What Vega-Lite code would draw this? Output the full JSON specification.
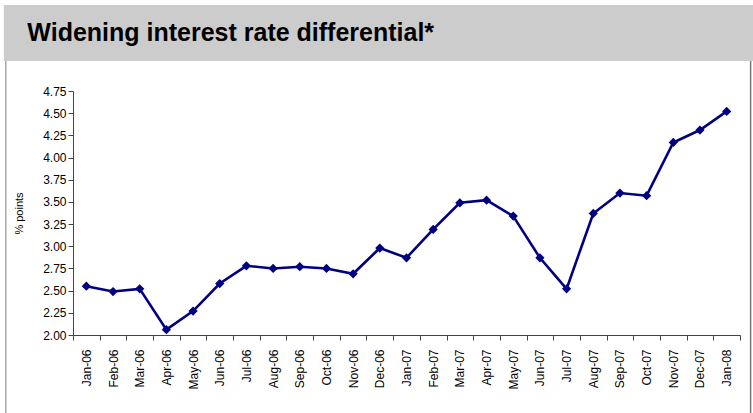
{
  "$schema": "https://vega.github.io/schema/vega-lite/v6.json",
  "background": "white",
  "padding": {"left": 3, "top": 4, "right": 0, "bottom": 0},
  "width": 667,
  "height": 244,
  "config": {
    "font": "Liberation Sans",
    "view": {"stroke": null}
  },
  "layer": [
    {
      "data": {"values": [
        {"month": "Jan-06", "v": 2.55},
        {"month": "Feb-06", "v": 2.49},
        {"month": "Mar-06", "v": 2.52},
        {"month": "Apr-06", "v": 2.06},
        {"month": "May-06", "v": 2.27},
        {"month": "Jun-06", "v": 2.58},
        {"month": "Jul-06", "v": 2.78},
        {"month": "Aug-06", "v": 2.75},
        {"month": "Sep-06", "v": 2.77},
        {"month": "Oct-06", "v": 2.75},
        {"month": "Nov-06", "v": 2.69},
        {"month": "Dec-06", "v": 2.98},
        {"month": "Jan-07", "v": 2.87},
        {"month": "Feb-07", "v": 3.19},
        {"month": "Mar-07", "v": 3.49},
        {"month": "Apr-07", "v": 3.52},
        {"month": "May-07", "v": 3.34},
        {"month": "Jun-07", "v": 2.87},
        {"month": "Jul-07", "v": 2.52},
        {"month": "Aug-07", "v": 3.37},
        {"month": "Sep-07", "v": 3.60},
        {"month": "Oct-07", "v": 3.57},
        {"month": "Nov-07", "v": 4.17},
        {"month": "Dec-07", "v": 4.31},
        {"month": "Jan-08", "v": 4.52}
      ]},
      "encoding": {
        "x": {
          "field": "month", "type": "ordinal", "sort": null,
          "scale": {"paddingInner": 0, "paddingOuter": 0},
          "axis": {
            "orient": "bottom",
            "title": null, "labelAngle": -90, "labelFontSize": 12, "labelColor": "black",
            "labelAlign": "right", "labelBaseline": "middle", "labelPadding": 9,
            "tickBand": "extent", "domainColor": "#444444", "tickColor": "#444444", "tickSize": 5, "grid": false
          }
        },
        "y": {
          "field": "v", "type": "quantitative",
          "scale": {"domain": [2, 4.75], "nice": false, "zero": false},
          "axis": {
            "orient": "left",
            "title": "% points", "titleFontSize": 11, "titleFontWeight": "normal", "titleColor": "black", "titlePadding": 18,
            "values": [2, 2.25, 2.5, 2.75, 3, 3.25, 3.5, 3.75, 4, 4.25, 4.5, 4.75],
            "format": ".2f", "labelFontSize": 12, "labelColor": "black", "grid": false,
            "domainColor": "#444444", "tickColor": "#444444", "tickSize": 5
          }
        }
      },
      "layer": [
        {"mark": {"type": "line", "color": "#000080", "strokeWidth": 2.6}},
        {"mark": {"type": "point", "shape": "diamond", "filled": true, "color": "#000080", "size": 85, "opacity": 1}}
      ]
    },
    {
      "layer": [
        {
          "data": {"values": [{"x1": -0.1037, "x2": 1.02, "y1": 1.123, "y2": 1.3525}]},
          "mark": {"type": "rect", "color": "#cccccc"},
          "encoding": {
            "x": {"field": "x1", "type": "quantitative", "scale": {"domain": [0, 1], "nice": false, "zero": false}, "axis": null},
            "x2": {"field": "x2"},
            "y": {"field": "y1", "type": "quantitative", "scale": {"domain": [0, 1], "nice": false, "zero": false}, "axis": null},
            "y2": {"field": "y2"}
          }
        },
        {
          "data": {"values": [
            {"x": -0.1008, "y1": -0.32, "y2": 1.123, "c": "left"},
            {"x": 1.0159, "y1": -0.32, "y2": 1.123, "c": "right"}
          ]},
          "mark": {"type": "rule", "strokeWidth": 1.5},
          "encoding": {
            "x": {"field": "x", "type": "quantitative", "scale": {"domain": [0, 1], "nice": false, "zero": false}, "axis": null},
            "y": {"field": "y1", "type": "quantitative", "scale": {"domain": [0, 1], "nice": false, "zero": false}, "axis": null},
            "y2": {"field": "y2"},
            "color": {"field": "c", "type": "nominal", "scale": {"domain": ["left", "right"], "range": ["#aaaaaa", "#777777"]}, "legend": null}
          }
        },
        {
          "data": {"values": [{"label": "Widening interest rate differential*", "x": -0.0685, "y": 1.2377}]},
          "mark": {"type": "text", "align": "left", "baseline": "middle", "font": "Liberation Sans", "fontSize": 25, "fontWeight": "bold", "color": "black"},
          "encoding": {
            "x": {"field": "x", "type": "quantitative", "scale": {"domain": [0, 1], "nice": false, "zero": false}, "axis": null},
            "y": {"field": "y", "type": "quantitative", "scale": {"domain": [0, 1], "nice": false, "zero": false}, "axis": null},
            "text": {"field": "label"}
          }
        }
      ]
    }
  ],
  "resolve": {"scale": {"x": "independent", "y": "independent"}, "axis": {"x": "independent", "y": "independent"}}
}
